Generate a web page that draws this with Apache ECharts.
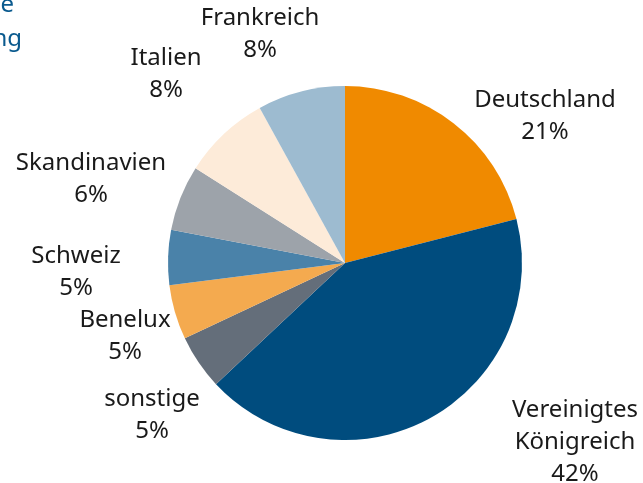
<!DOCTYPE html>
<html>
<head>
<meta charset="utf-8">
<style>
  html, body { margin: 0; padding: 0; background: #fff; }
  #chart { width: 643px; height: 483px; }
</style>
<script src="https://cdn.jsdelivr.net/npm/echarts@6/dist/echarts.min.js"></script>
</head>
<body>
<div id="chart"></div>
<script>
// Anteile in Prozent, im Uhrzeigersinn ab 12 Uhr
var laender = ['Deutschland', 'Vereinigtes\nKönigreich', 'sonstige', 'Benelux', 'Schweiz', 'Skandinavien', 'Italien', 'Frankreich'];
var anteile = [21, 42, 5, 5, 5, 6, 8, 8];
var farben = ['#f08a00', '#004c7e', '#646e7a', '#f4aa4f', '#4a82a9', '#9da3aa', '#fdebd9', '#9dbbd0'];

// Mittelpunkt der Beschriftungen (wie im Original frei gesetzt)
var labelPos = [[545, 116], [575, 442], [152, 415], [125, 336], [76, 272], [91, 179], [166, 74], [260, 34]];

var chartDom = document.getElementById('chart');
var myChart = echarts.init(chartDom);

var option = {
  animation: false,
  textStyle: { fontFamily: 'Noto Sans' },
  graphic: [
    // abgeschnittener Titel am linken Rand
    { type: 'text', x: 14, y: 5, style: { text: 'e', fill: '#0a5a8e', fontSize: 24, fontFamily: 'Noto Sans', textAlign: 'right', textVerticalAlign: 'middle' } },
    { type: 'text', x: 22, y: 39, style: { text: 'ng', fill: '#0a5a8e', fontSize: 24, fontFamily: 'Noto Sans', textAlign: 'right', textVerticalAlign: 'middle' } }
  ],
  series: [
    {
      type: 'pie',
      center: [345, 263],
      radius: 177,
      startAngle: 90,
      clockwise: true,
      data: laender.map(function (name, i) {
        return { name: name, value: anteile[i], itemStyle: { color: farben[i] } };
      }),
      label: {
        show: true,
        position: 'outside',
        alignTo: 'none',
        overflow: 'none',
        formatter: function (p) {
          return p.name + '\n' + p.value + '%';
        },
        color: '#1a1a1a',
        fontSize: 24,
        lineHeight: 32,
        fontFamily: 'Noto Sans',
        align: 'center'
      },
      labelLine: { show: false },
      labelLayout: function (params) {
        var pos = labelPos[params.dataIndex];
        return { x: pos[0], y: pos[1], align: 'center', verticalAlign: 'middle', width: 220 };
      },
      emphasis: { disabled: true }
    }
  ]
};

option && myChart.setOption(option);
</script>
</body>
</html>
